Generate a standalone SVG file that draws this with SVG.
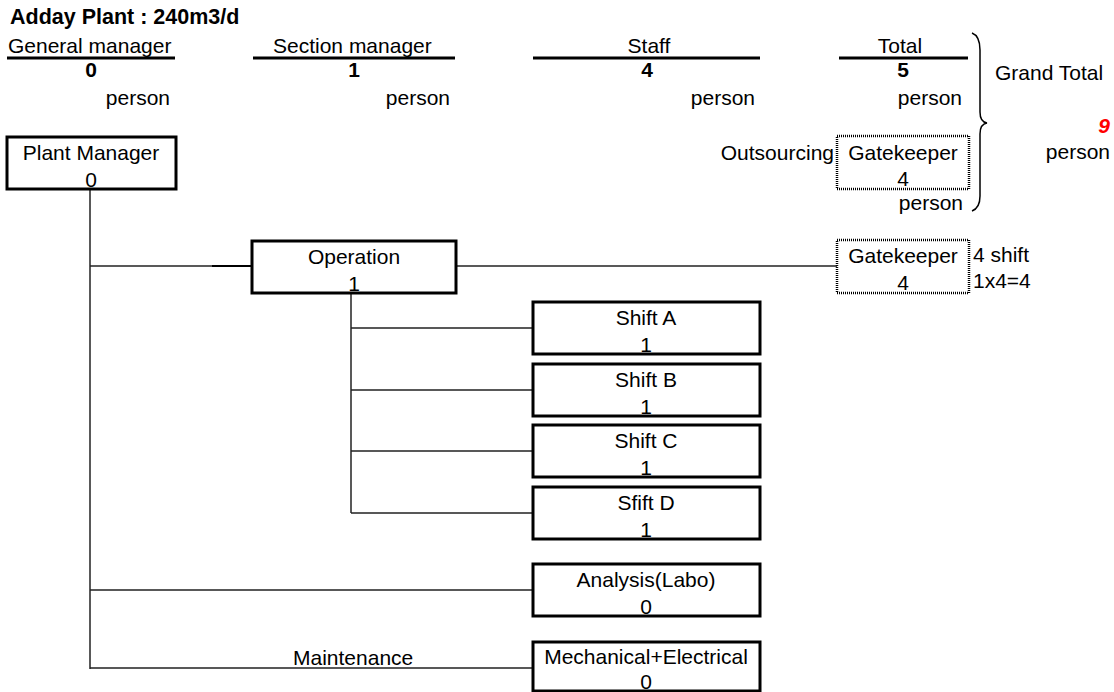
<svg xmlns="http://www.w3.org/2000/svg" width="1114" height="692" viewBox="0 0 1114 692">
  <style>
    text { font-family: "Liberation Sans", Arial, sans-serif; font-size: 21px; fill: #000; }
    .b { font-weight: bold; }
    .c { text-anchor: middle; }
    .r { text-anchor: end; }
    .box { fill: #fff; stroke: #000; stroke-width: 3; }
    .dot { fill: #fff; stroke: #000; stroke-width: 2.5; stroke-dasharray: 1 1; }
    .rule { stroke: #000; stroke-width: 3; }
    .wire { fill: none; stroke: #222; stroke-width: 1.5; }
  </style>
  <rect width="1114" height="692" fill="#fff"/>

  <!-- heading and staffing summary -->
  <g id="summary">
    <text x="10" y="24" class="b" style="font-size:21.5px">Adday Plant : 240m3/d</text>
    <text x="8" y="53">General manager</text>
    <line x1="7" y1="58" x2="175" y2="58" class="rule"/>
    <text x="91" y="77" class="b c">0</text>
    <text x="170" y="105" class="r">person</text>

    <text x="273" y="53">Section manager</text>
    <line x1="253" y1="58" x2="455" y2="58" class="rule"/>
    <text x="354" y="77" class="b c">1</text>
    <text x="450" y="105" class="r">person</text>

    <text x="649" y="53" class="c">Staff</text>
    <line x1="533" y1="58" x2="760" y2="58" class="rule"/>
    <text x="647" y="77" class="b c">4</text>
    <text x="755" y="105" class="r">person</text>

    <text x="900" y="53" class="c">Total</text>
    <line x1="839" y1="58" x2="968" y2="58" class="rule"/>
    <text x="903" y="77" class="b c">5</text>
    <text x="962" y="105" class="r">person</text>

    <text x="834" y="160" class="r">Outsourcing</text>
    <text x="963" y="210" class="r">person</text>

    <path d="M972 33 Q980 36 980 50 L980 112 Q980 122 987 123 Q980 124 980 134 L980 196 Q980 208 972 211" fill="none" stroke="#000" stroke-width="1.5"/>
    <text x="995" y="80">Grand Total</text>
    <text x="1110" y="133" class="r" style="font-weight:bold;font-style:italic;fill:#f00">9</text>
    <text x="1110" y="159" class="r">person</text>
  </g>

  <!-- reporting lines -->
  <g id="connectors">
    <path d="M90 189 V669" class="wire"/>
    <path d="M90 266 H212" class="wire"/>
    <path d="M212 266 H252" fill="none" stroke="#000" stroke-width="2"/>
    <path d="M456 266 H837" class="wire"/>
    <path d="M351 293 V513" class="wire"/>
    <path d="M351 328 H533 M351 390 H533 M351 451 H533 M351 513 H533" class="wire"/>
    <path d="M90 590 H533 M90 668 H533" class="wire"/>
    <text x="293" y="665">Maintenance</text>
  </g>

  <g id="plant-manager">
    <rect x="7" y="137" width="169" height="52" class="box"/>
    <text x="91" y="160" class="c">Plant Manager</text>
    <text x="91" y="187" class="c">0</text>
  </g>

  <g id="gatekeeper-outsourced">
    <rect x="837" y="136" width="132" height="53" class="dot"/>
    <text x="903" y="160" class="c">Gatekeeper</text>
    <text x="903" y="186" class="c">4</text>
  </g>

  <g id="operation">
    <rect x="252" y="241" width="204" height="52" class="box"/>
    <text x="354" y="264" class="c">Operation</text>
    <text x="354" y="291" class="c">1</text>
  </g>

  <g id="gatekeeper">
    <rect x="837" y="240" width="132" height="53" class="dot"/>
    <text x="903" y="263" class="c">Gatekeeper</text>
    <text x="903" y="290" class="c">4</text>
    <text x="973" y="262">4 shift</text>
    <text x="973" y="288">1x4=4</text>
  </g>

  <g id="shift-a">
    <rect x="533" y="302" width="227" height="52" class="box"/>
    <text x="646" y="325" class="c">Shift A</text>
    <text x="646" y="352" class="c">1</text>
  </g>

  <g id="shift-b">
    <rect x="533" y="364" width="227" height="52" class="box"/>
    <text x="646" y="387" class="c">Shift B</text>
    <text x="646" y="414" class="c">1</text>
  </g>

  <g id="shift-c">
    <rect x="533" y="425" width="227" height="52" class="box"/>
    <text x="646" y="448" class="c">Shift C</text>
    <text x="646" y="475" class="c">1</text>
  </g>

  <g id="shift-d">
    <rect x="533" y="487" width="227" height="52" class="box"/>
    <text x="646" y="510" class="c">Sfift D</text>
    <text x="646" y="537" class="c">1</text>
  </g>

  <g id="analysis">
    <rect x="533" y="564" width="227" height="52" class="box"/>
    <text x="646" y="587" class="c">Analysis(Labo)</text>
    <text x="646" y="614" class="c">0</text>
  </g>

  <g id="mechanical-electrical">
    <rect x="533" y="642" width="227" height="49" class="box"/>
    <text x="646" y="664" class="c">Mechanical+Electrical</text>
    <text x="646" y="689" class="c">0</text>
  </g>
</svg>
